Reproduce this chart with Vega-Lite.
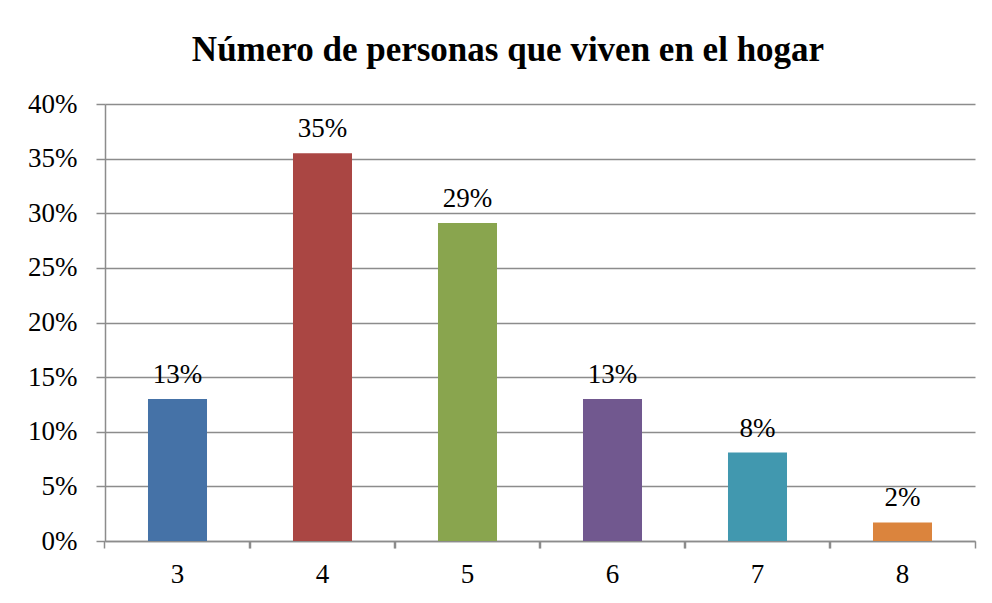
{
  "$schema": "https://vega.github.io/schema/vega-lite/v6.json",
  "width": 870,
  "height": 437,
  "autosize": {"type": "none"},
  "padding": {"left": 105, "top": 104, "right": 17, "bottom": 62},
  "background": "white",
  "title": {
    "text": "Número de personas que viven en el hogar",
    "font": "Liberation Serif",
    "fontSize": 35,
    "fontWeight": "bold",
    "color": "black",
    "anchor": "middle",
    "frame": "group",
    "dx": -32,
    "offset": 22
  },
  "data": {
    "values": [
      {"personas": "3", "pct": 0.13, "label": "13%"},
      {"personas": "4", "pct": 0.355, "label": "35%"},
      {"personas": "5", "pct": 0.291, "label": "29%"},
      {"personas": "6", "pct": 0.13, "label": "13%"},
      {"personas": "7", "pct": 0.081, "label": "8%"},
      {"personas": "8", "pct": 0.017, "label": "2%"}
    ]
  },
  "config": {
    "view": {"stroke": null},
    "axis": {
      "labelFont": "Liberation Serif",
      "labelFontSize": 27,
      "labelColor": "black",
      "domainColor": "#8c8c8c",
      "tickColor": "#8c8c8c",
      "gridColor": "#8c8c8c",
      "domainWidth": 1.5,
      "tickWidth": 1.5,
      "gridWidth": 1.3
    }
  },
  "resolve": {"axis": {"x": "independent"}},
  "layer": [
    {
      "mark": {"type": "bar"},
      "encoding": {
        "x": {
          "field": "personas",
          "type": "nominal",
          "sort": null,
          "scale": {"paddingInner": 0.593, "paddingOuter": 0.2965},
          "axis": {
            "orient": "bottom",
            "title": null,
            "labelAngle": 0,
            "ticks": false,
            "labelPadding": 20,
            "grid": false
          }
        },
        "y": {
          "field": "pct",
          "type": "quantitative",
          "scale": {"domain": [0, 0.4], "nice": false},
          "axis": {
            "title": null,
            "format": ".0%",
            "values": [0, 0.05, 0.1, 0.15, 0.2, 0.25, 0.3, 0.35, 0.4],
            "tickSize": 9,
            "labelPadding": 19,
            "grid": true,
            "domain": true
          }
        },
        "color": {
          "field": "personas",
          "type": "nominal",
          "sort": null,
          "scale": {"range": ["#4572A7", "#AA4643", "#89A54E", "#71588F", "#4198AF", "#DB843D"]},
          "legend": null
        }
      }
    },
    {
      "mark": {"type": "text", "font": "Liberation Serif", "fontSize": 27, "color": "black", "baseline": "alphabetic", "dy": -16},
      "encoding": {
        "x": {
          "field": "personas",
          "type": "nominal",
          "sort": null,
          "axis": {
            "orient": "bottom",
            "title": null,
            "labels": false,
            "domain": false,
            "grid": false,
            "tickSize": 7,
            "bandPosition": -0.7286
          }
        },
        "y": {"field": "pct", "type": "quantitative"},
        "text": {"field": "label"}
      }
    },
    {
      "mark": {"type": "text", "opacity": 0, "fontSize": 27, "baseline": "alphabetic", "dy": -16},
      "encoding": {
        "x": {
          "field": "personas",
          "type": "nominal",
          "sort": null,
          "axis": {
            "orient": "bottom",
            "title": null,
            "labels": false,
            "domain": false,
            "grid": false,
            "tickSize": 7,
            "bandPosition": 1.7286
          }
        },
        "y": {"field": "pct", "type": "quantitative"},
        "text": {"field": "label"}
      }
    }
  ]
}
